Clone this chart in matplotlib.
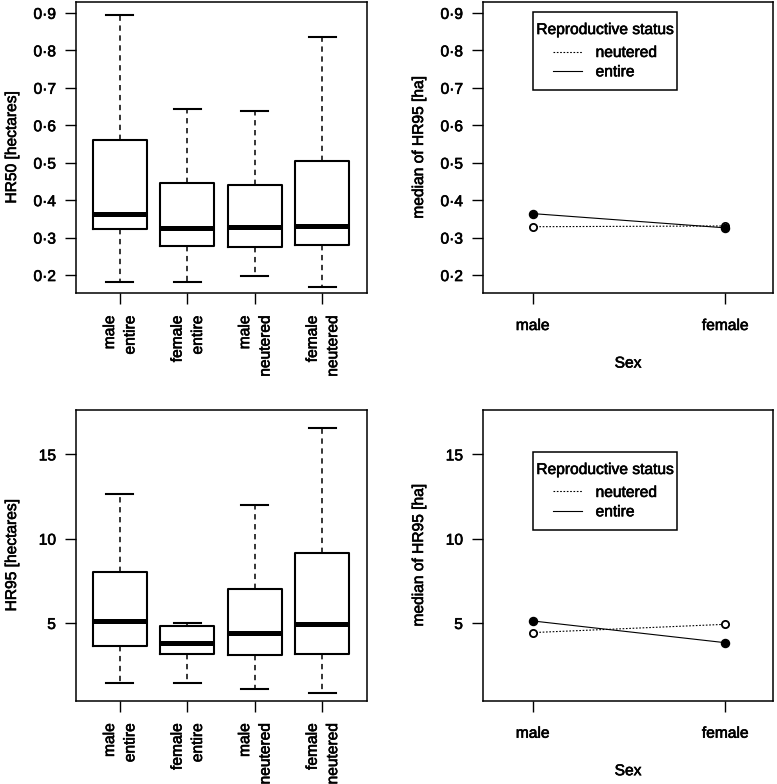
import matplotlib
matplotlib.use("Agg")
import matplotlib.pyplot as plt
from matplotlib.ticker import FixedLocator, FuncFormatter
from matplotlib.lines import Line2D
from matplotlib.path import Path
from matplotlib.text import Text
import matplotlib.patheffects as pe

plt.rcParams['font.family'] = ['Liberation Sans', 'DejaVu Sans']
FS = 11.2

# ---- data ----
groups = ["male\nentire", "female\nentire", "male\nneutered", "female\nneutered"]
hr50_whislo = [0.182, 0.182, 0.198, 0.169]
hr50_q1 = [0.323, 0.277, 0.274, 0.279]
hr50_med = [0.364, 0.326, 0.329, 0.331]
hr50_q3 = [0.560, 0.446, 0.441, 0.505]
hr50_whishi = [0.893, 0.642, 0.639, 0.835]

hr95_whislo = [1.46, 1.44, 1.11, 0.87]
hr95_q1 = [3.65, 3.16, 3.08, 3.14]
hr95_med = [5.12, 3.83, 4.43, 4.92]
hr95_q3 = [8.00, 4.82, 7.03, 9.13]
hr95_whishi = [12.66, 4.98, 12.01, 16.56]

sex = ["male", "female"]
hr50_entire = [0.364, 0.326]
hr50_neutered = [0.329, 0.331]
hr95_entire = [5.12, 3.83]
hr95_neutered = [4.43, 4.92]

hr50_ticks = [0.2, 0.3, 0.4, 0.5, 0.6, 0.7, 0.8, 0.9]
hr95_ticks = [5, 10, 15]

W, H = 777, 784
fig = plt.figure(figsize=(W / 100, H / 100), dpi=100)


def ax_at(x0, y0, x1, y1):
    return fig.add_axes([x0 / W, 1 - y1 / H, (x1 - x0) / W, (y1 - y0) / H])


ax_tl = ax_at(76, 2, 367, 293)
ax_tr = ax_at(483, 2, 773, 293)
ax_bl = ax_at(76, 410, 367, 700.7)
ax_br = ax_at(483, 410, 773, 700.7)

dotfmt = FuncFormatter(lambda v, p: f"{v:.1f}".replace(".", "\u00b7"))
intfmt = FuncFormatter(lambda v, p: f"{int(round(v))}")


def style(ax):
    for s in ax.spines.values():
        s.set_linewidth(1.1)
    ax.tick_params(direction='out', length=8, width=1.0, labelsize=FS)


def boxpanel(ax, wlo, q1, med, q3, whi, ylim, ticks, fmt, ylabel):
    stats = []
    for i in range(len(groups)):
        stats.append(dict(whislo=wlo[i], q1=q1[i], med=med[i], q3=q3[i],
                          whishi=whi[i], fliers=[], label=groups[i]))
    ax.bxp(stats, positions=range(1, len(groups) + 1), widths=0.8,
           showfliers=False,
           boxprops=dict(color='black', linewidth=1.5),
           medianprops=dict(color='black', linewidth=3.6, solid_capstyle='butt'),
           whiskerprops=dict(color='black', linewidth=1.1, linestyle=(0, (3.5, 3))),
           capprops=dict(color='black', linewidth=1.5))
    ax.set_xlim(0.353, 4.66)
    ax.set_ylim(*ylim)
    style(ax)
    ax.yaxis.set_major_locator(FixedLocator(ticks))
    ax.yaxis.set_major_formatter(fmt)
    ax.tick_params(axis='y', pad=6.5)
    ax.set_xticks(range(1, len(groups) + 1))
    ax.set_xticklabels(groups, rotation=90, va='top', ha='center',
                       multialignment='right', fontsize=FS, linespacing=1.45)
    ax.tick_params(axis='x', pad=8.2)
    ax.set_ylabel(ylabel, fontsize=FS)
    ax.yaxis.set_label_coords(-57 / 291, 0.5)


def tall_square(x0, y0, width, height, mutation_size):
    dy = 0.42 * mutation_size
    return Path([(x0, y0 - dy), (x0 + width, y0 - dy), (x0 + width, y0 + height + dy),
                 (x0, y0 + height + dy), (x0, y0 - dy)], closed=True)


def interpanel(ax, entire, neutered, ylim, ticks, fmt, legend_top):
    x = [1, 2]
    ax.plot(x, neutered, linestyle=(0, (1.5, 1.5)), color='black', linewidth=0.8,
            marker='o', markersize=5.2, markerfacecolor='white',
            markeredgecolor='black', markeredgewidth=1.3, label='neutered')
    ax.plot(x, entire, linestyle='-', color='black', linewidth=0.8,
            marker='o', markersize=5.8, markerfacecolor='black',
            markeredgecolor='black', label='entire')
    ax.set_xlim(0.742, 2.248)
    ax.set_ylim(*ylim)
    style(ax)
    ax.yaxis.set_major_locator(FixedLocator(ticks))
    ax.yaxis.set_major_formatter(fmt)
    ax.tick_params(axis='y', pad=6.5)
    ax.set_xticks(x)
    ax.set_xticklabels(sex, fontsize=FS)
    ax.tick_params(axis='x', pad=10)
    ax.set_xlabel("Sex", fontsize=FS)
    ax.xaxis.set_label_coords(0.5, -0.215)
    ax.set_ylabel("median of HR95 [ha]", fontsize=FS)
    ax.yaxis.set_label_coords(-57 / 290, 0.5)
    handles = [Line2D([], [], color='black', linestyle=(0, (1.5, 1.5)), linewidth=0.8),
               Line2D([], [], color='black', linestyle='-', linewidth=0.8)]
    leg = ax.legend(handles, ['neutered', 'entire'], title='Reproductive status',
                    loc='upper left', bbox_to_anchor=(0.171, legend_top),
                    fontsize=FS, title_fontsize=FS, frameon=True, fancybox=False,
                    framealpha=1, edgecolor='black', borderpad=0.24,
                    handlelength=1.9, handletextpad=0.85, labelspacing=0.28,
                    borderaxespad=0)
    leg._legend_box.sep = 5.7
    leg.get_frame().set_linewidth(1.1)
    leg.get_frame().set_boxstyle(tall_square)


boxpanel(ax_tl, hr50_whislo, hr50_q1, hr50_med, hr50_q3, hr50_whishi,
         (0.152, 0.929), hr50_ticks, dotfmt, "HR50 [hectares]")
boxpanel(ax_bl, hr95_whislo, hr95_q1, hr95_med, hr95_q3, hr95_whishi,
         (0.39, 17.63), hr95_ticks, intfmt, "HR95 [hectares]")
interpanel(ax_tr, hr50_entire, hr50_neutered, (0.152, 0.929), hr50_ticks, dotfmt,
           0.944)
interpanel(ax_br, hr95_entire, hr95_neutered, (0.39, 17.63), hr95_ticks, intfmt,
           0.834)

for t in fig.findobj(Text):
    t.set_path_effects([pe.withStroke(linewidth=0.45, foreground='black')])

fig.savefig("out.png", dpi=100)
